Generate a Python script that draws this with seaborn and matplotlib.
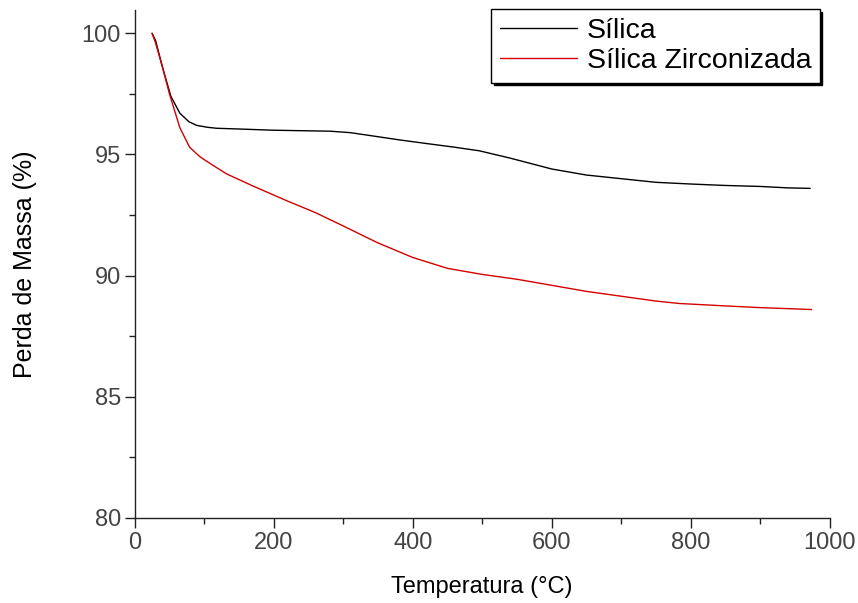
import matplotlib
matplotlib.use("Agg")
import matplotlib.pyplot as plt
import seaborn as sns
import pandas as pd

sns.set_style("ticks")
plt.rcParams["font.family"] = ["Liberation Sans", "DejaVu Sans"]
plt.rcParams["text.color"] = "black"
plt.rcParams["axes.labelcolor"] = "black"

# ---- data (TGA curves) ----
temp_silica = [25, 30, 40, 52, 65, 78, 89, 105, 118, 150, 199, 240, 281, 310, 334,
               381, 420, 460, 496, 540, 600, 650, 700, 750, 800, 850, 900, 940, 972]
mass_silica = [100.0, 99.7, 98.6, 97.4, 96.7, 96.35, 96.2, 96.12, 96.08, 96.05, 96.0, 95.98,
               95.96, 95.9, 95.8, 95.6, 95.45, 95.3, 95.15, 94.85, 94.4, 94.15, 94.0,
               93.85, 93.78, 93.72, 93.68, 93.62, 93.6]

temp_zirc = [25, 30, 40, 50, 65, 79, 94, 110, 132, 170, 218, 260, 300, 350, 400, 450,
             500, 550, 600, 650, 700, 750, 784, 850, 900, 957, 974]
mass_zirc = [100.0, 99.6, 98.6, 97.5, 96.1, 95.3, 94.9, 94.6, 94.2, 93.7, 93.1, 92.6,
             92.05, 91.35, 90.75, 90.3, 90.05, 89.85, 89.6, 89.35, 89.15, 88.95, 88.85,
             88.75, 88.68, 88.62, 88.6]

df = pd.concat([
    pd.DataFrame({"T": temp_silica, "m": mass_silica, "amostra": "Sílica"}),
    pd.DataFrame({"T": temp_zirc, "m": mass_zirc, "amostra": "Sílica Zirconizada"}),
])

fig = plt.figure(figsize=(8.58, 6.03), dpi=100)
ax = fig.add_axes([0.157, 0.141, 0.81, 0.842])

sns.lineplot(data=df, x="T", y="m", hue="amostra", sort=False,
             palette={"Sílica": "black", "Sílica Zirconizada": "#d40000"},
             linewidth=1.0, ax=ax)

ax.set_xlim(0, 1000)
ax.set_ylim(80, 100.95)
ax.set_xticks([0, 200, 400, 600, 800, 1000])
ax.set_xticks([100, 300, 500, 700, 900], minor=True)
ax.set_yticks([80, 85, 90, 95, 100])
ax.set_yticks([82.5, 87.5, 92.5, 97.5], minor=True)
ax.tick_params(which="major", direction="out", length=7, width=1, labelsize=17,
               labelcolor="#444444", color="#222222", pad=3)
ax.tick_params(which="minor", direction="out", length=4, width=1, color="#222222")
sns.despine(ax=ax)
for s in ["left", "bottom"]:
    ax.spines[s].set_linewidth(1)
    ax.spines[s].set_color("#222222")

ax.set_xlabel("Temperatura (°C)", fontsize=17, labelpad=16)
ax.set_ylabel("Perda de Massa (%)", fontsize=18, labelpad=32)

leg = ax.legend(loc="upper right", bbox_to_anchor=(0.9856, 1.002), borderaxespad=0,
                fontsize=20.5, frameon=True, fancybox=False, edgecolor="black",
                framealpha=1, handlelength=2.7, handletextpad=0.35,
                borderpad=0.3, labelspacing=0.15,
                shadow={"color": "black", "alpha": 1})
leg.get_frame().set_linewidth(1)
leg.set_title(None)

fig.savefig("out.png", dpi=100)
